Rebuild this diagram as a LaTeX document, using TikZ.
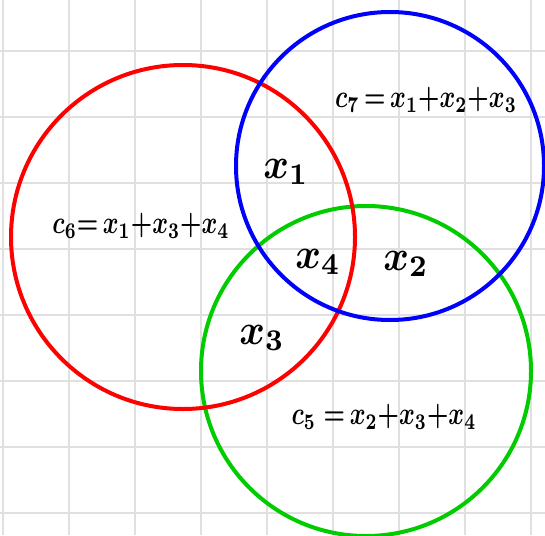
\documentclass[tikz,border=0pt]{standalone}
\begin{document}
\begin{tikzpicture}[x=1pt,y=-1pt,
  gridline/.style={draw={rgb,255:red,224;green,224;blue,224},line width=1.6pt},
  ring/.style={line width=4pt},
  eq/.style={inner sep=0pt,xscale=2.4,yscale=3.2,font=\boldmath},
  lab/.style={inner sep=0pt,xscale=3.9,yscale=4.3,font=\boldmath}]
\definecolor{ringred}{RGB}{255,0,0}
\definecolor{ringblue}{RGB}{0,0,255}
\definecolor{ringgreen}{RGB}{0,204,0}
\useasboundingbox[fill=white] (0,0) rectangle (545,535);
\foreach \gx in {3,69,135,201,267,333,399,465,531}
  \draw[gridline] (\gx,0) -- (\gx,535);
\foreach \gy in {51,117,183,249,315,381,447,513}
  \draw[gridline] (0,\gy) -- (545,\gy);
\draw[ring,draw=ringgreen] (366,371) circle[radius=165];
\draw[ring,draw=ringred] (183,237) circle[radius=172];
\draw[ring,draw=ringblue] (390,166) circle[radius=154];
\node[eq] (c7) at (426,100) {$c_7\,{=}\,x_1{+}x_2{+}x_3$};
\node[eq] (c6) at (141,226) {$c_6{=}\,x_1{+}x_3{+}x_4$};
\node[eq] (c5) at (384,417) {$c_5\;{=}\,x_2{+}x_3{+}x_4$};
\node[lab] (x1) at (286,172) {$x_1$};
\node[lab] (x4) at (318,262) {$x_4$};
\node[lab] (x2) at (406,264) {$x_2$};
\node[lab] (x3) at (262,338) {$x_3$};
\end{tikzpicture}
\end{document}
